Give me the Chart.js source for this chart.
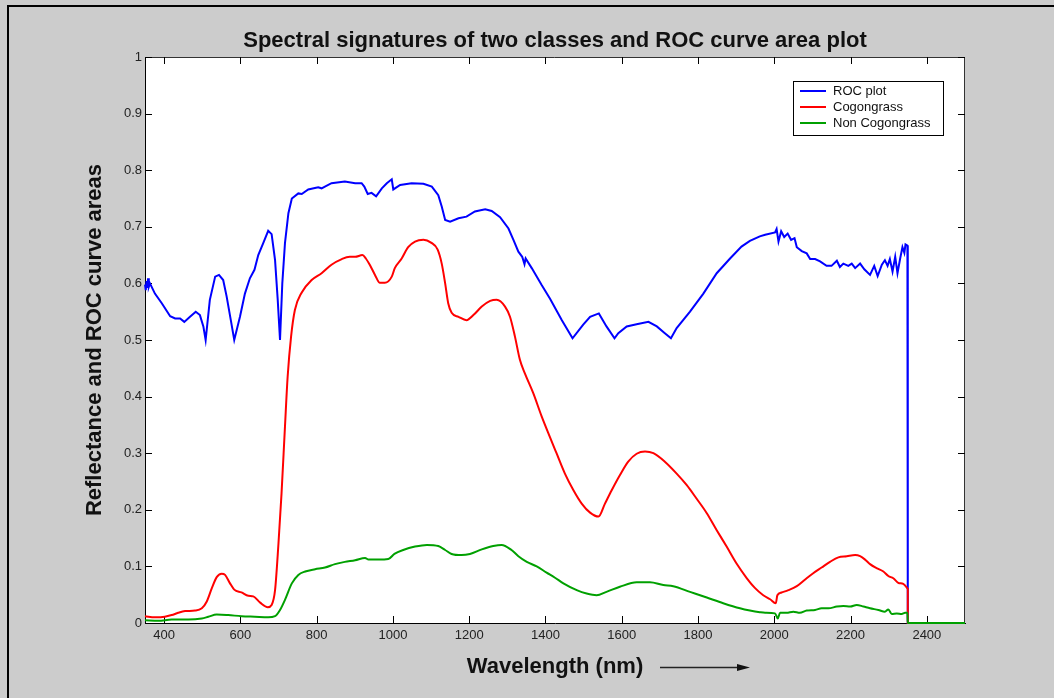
<!DOCTYPE html>
<html>
<head>
<meta charset="utf-8">
<title>Spectral signatures</title>
<script src="https://cdn.jsdelivr.net/npm/chart.js@4.4.1/dist/chart.umd.min.js"></script>
<style>
  html, body { margin: 0; padding: 0; background: #cccccc; }
  #wrap { position: relative; width: 1054px; height: 698px; overflow: hidden; }
  #border { position: absolute; left: 7px; top: 5px; width: 1100px; height: 760px; border: 2px solid #000; pointer-events: none; }
  canvas { position: absolute; left: 0; top: 0; }
</style>
</head>
<body>
<div id="wrap">
  <canvas id="myChart" width="1054" height="698"></canvas>
  <div id="border"></div>
</div>
<script>
// ROC curve area per wavelength
const rocWl = [350, 352, 354, 356, 358, 360, 363, 376, 394, 416, 429, 442, 453, 468, 483, 494, 503, 509, 520, 534,
  544, 555, 564, 575, 584, 599, 612, 625, 637, 647, 660, 673, 682, 691, 698, 704, 710, 717, 726, 735,
  752, 761, 778, 804, 813, 839, 874, 901, 918, 925, 934, 944, 956, 971, 984, 997, 1001, 1019, 1049, 1080,
  1102, 1119, 1128, 1137, 1150, 1172, 1193, 1215, 1242, 1259, 1281, 1303, 1316, 1329, 1339, 1345, 1348, 1364, 1390, 1412,
  1443, 1471, 1499, 1517, 1540, 1560, 1581, 1591, 1613, 1639, 1670, 1692, 1713, 1729, 1744, 1779, 1814, 1849, 1884, 1914,
  1936, 1962, 1976, 2002, 2006, 2011, 2018, 2026, 2035, 2044, 2053, 2059, 2072, 2085, 2094, 2107, 2120, 2137, 2150, 2164,
  2172, 2181, 2194, 2203, 2212, 2225, 2236, 2251, 2262, 2271, 2282, 2290, 2297, 2303, 2310, 2317, 2323, 2330, 2336, 2341,
  2344, 2349, 2350, 2500];
const rocValues = [0.598, 0.588, 0.604, 0.592, 0.609, 0.594, 0.600, 0.582, 0.565, 0.542, 0.538, 0.538, 0.532, 0.541, 0.550, 0.544, 0.524, 0.500, 0.571, 0.612,
  0.615, 0.606, 0.577, 0.535, 0.500, 0.541, 0.582, 0.609, 0.624, 0.650, 0.671, 0.693, 0.687, 0.641, 0.571, 0.500, 0.600, 0.671, 0.724, 0.750,
  0.759, 0.758, 0.766, 0.770, 0.768, 0.777, 0.780, 0.777, 0.777, 0.771, 0.758, 0.760, 0.754, 0.768, 0.777, 0.784, 0.766, 0.774, 0.777, 0.776,
  0.771, 0.756, 0.736, 0.712, 0.709, 0.715, 0.718, 0.727, 0.731, 0.728, 0.717, 0.697, 0.677, 0.656, 0.647, 0.634, 0.644, 0.627, 0.597, 0.573,
  0.535, 0.503, 0.527, 0.541, 0.547, 0.524, 0.503, 0.512, 0.524, 0.528, 0.532, 0.524, 0.512, 0.503, 0.521, 0.550, 0.582, 0.618, 0.644, 0.665,
  0.675, 0.683, 0.686, 0.690, 0.696, 0.674, 0.692, 0.682, 0.688, 0.677, 0.680, 0.664, 0.657, 0.653, 0.643, 0.643, 0.639, 0.631, 0.631, 0.640,
  0.629, 0.635, 0.631, 0.635, 0.627, 0.635, 0.625, 0.615, 0.631, 0.613, 0.633, 0.641, 0.631, 0.643, 0.621, 0.647, 0.618, 0.644, 0.664, 0.654,
  0.669, 0.667, 0, 0];

// mean reflectance, cogongrass
const cogWl = [350, 376, 402, 420, 437, 455, 481, 499, 512, 525, 538, 551, 560, 573, 584, 603, 621, 634, 652, 672,
  682, 691, 700, 708, 717, 724, 733, 743, 761, 787, 813, 839, 866, 887, 901, 920, 929, 940, 953, 966,
  979, 997, 1005, 1023, 1040, 1058, 1080, 1100, 1117, 1128, 1137, 1145, 1154, 1172, 1193, 1211, 1233, 1255, 1272, 1294,
  1307, 1320, 1333, 1346, 1368, 1390, 1412, 1429, 1451, 1473, 1495, 1517, 1539, 1556, 1574, 1595, 1617, 1639, 1661, 1683,
  1713, 1744, 1770, 1796, 1823, 1849, 1875, 1901, 1928, 1949, 1971, 1989, 2004, 2008, 2019, 2037, 2059, 2081, 2102, 2124,
  2146, 2168, 2190, 2212, 2225, 2238, 2251, 2268, 2286, 2299, 2312, 2325, 2338, 2347, 2350, 2350, 2500];
const cogValues = [0.012, 0.010, 0.011, 0.014, 0.018, 0.021, 0.022, 0.026, 0.038, 0.061, 0.081, 0.087, 0.085, 0.070, 0.059, 0.054, 0.048, 0.047, 0.036, 0.028,
  0.032, 0.058, 0.141, 0.229, 0.347, 0.435, 0.506, 0.553, 0.584, 0.606, 0.618, 0.633, 0.643, 0.647, 0.647, 0.650, 0.644, 0.632, 0.615, 0.601,
  0.601, 0.612, 0.627, 0.644, 0.664, 0.674, 0.677, 0.672, 0.660, 0.635, 0.600, 0.565, 0.548, 0.541, 0.535, 0.544, 0.559, 0.569, 0.571, 0.559,
  0.541, 0.506, 0.465, 0.441, 0.406, 0.365, 0.328, 0.300, 0.264, 0.235, 0.211, 0.195, 0.188, 0.211, 0.235, 0.261, 0.285, 0.299, 0.303, 0.300,
  0.285, 0.264, 0.244, 0.220, 0.194, 0.164, 0.135, 0.105, 0.079, 0.062, 0.049, 0.042, 0.035, 0.049, 0.054, 0.058, 0.065, 0.077, 0.088, 0.098,
  0.108, 0.116, 0.118, 0.120, 0.118, 0.112, 0.104, 0.097, 0.091, 0.083, 0.079, 0.071, 0.069, 0.063, 0.060, 0, 0];

// mean reflectance, other vegetation
const nonWl = [350, 385, 420, 464, 499, 516, 538, 568, 603, 638, 673, 691, 704, 717, 735, 752, 770, 796, 822, 848,
  874, 901, 927, 936, 962, 988, 1004, 1027, 1058, 1089, 1119, 1137, 1154, 1180, 1202, 1233, 1263, 1285, 1311, 1329,
  1351, 1377, 1403, 1425, 1447, 1482, 1508, 1534, 1560, 1595, 1639, 1674, 1709, 1735, 1779, 1823, 1866, 1910, 1936, 1962,
  1976, 2002, 2009, 2015, 2032, 2050, 2067, 2085, 2107, 2124, 2142, 2164, 2181, 2199, 2216, 2234, 2251, 2273, 2290, 2299,
  2308, 2321, 2334, 2343, 2349, 2350, 2500];
const nonValues = [0.005, 0.004, 0.006, 0.006, 0.008, 0.011, 0.015, 0.014, 0.012, 0.011, 0.010, 0.012, 0.023, 0.041, 0.070, 0.085, 0.091, 0.095, 0.098, 0.104,
  0.108, 0.111, 0.115, 0.112, 0.112, 0.113, 0.122, 0.129, 0.135, 0.138, 0.136, 0.129, 0.122, 0.120, 0.122, 0.130, 0.136, 0.138, 0.129, 0.118,
  0.108, 0.100, 0.089, 0.080, 0.070, 0.058, 0.052, 0.049, 0.055, 0.064, 0.072, 0.072, 0.067, 0.065, 0.055, 0.045, 0.035, 0.026, 0.022, 0.019,
  0.018, 0.017, 0.008, 0.018, 0.018, 0.020, 0.018, 0.022, 0.023, 0.026, 0.026, 0.029, 0.030, 0.029, 0.032, 0.029, 0.026, 0.023, 0.020, 0.024,
  0.016, 0.017, 0.016, 0.018, 0.018, 0, 0];

const xTicks = [400, 600, 800, 1000, 1200, 1400, 1600, 1800, 2000, 2200, 2400];
const yTicks = [0, 0.1, 0.2, 0.3, 0.4, 0.5, 0.6, 0.7, 0.8, 0.9, 1];

const FONT = '"Liberation Sans", Arial, sans-serif';
Chart.defaults.font.family = FONT;

const toPoints = (wl, vals) => wl.map((w, i) => ({ x: w, y: vals[i] }));

// matlab-like figure: white axes box, inward ticks, titles, boxed legend
const matlabFrame = {
  id: 'matlabFrame',
  beforeDraw(chart) {
    const { ctx, chartArea: a } = chart;
    ctx.save();
    ctx.fillStyle = '#ffffff';
    ctx.fillRect(a.left, a.top, a.right - a.left, a.bottom - a.top);
    ctx.restore();
  },
  beforeDatasetsDraw(chart) {
    const { ctx, chartArea: a, scales } = chart;
    const len = 7;
    ctx.save();
    ctx.strokeStyle = '#333';
    ctx.lineWidth = 1;
    ctx.beginPath();
    ctx.moveTo(a.left, a.top + 0.5);
    ctx.lineTo(a.right - 0.5, a.top + 0.5);
    ctx.lineTo(a.right - 0.5, a.bottom);
    ctx.stroke();
    ctx.strokeStyle = '#000';
    ctx.beginPath();
    xTicks.forEach(v => {
      const px = Math.round(scales.x.getPixelForValue(v)) + 0.5;
      ctx.moveTo(px, a.bottom); ctx.lineTo(px, a.bottom - len);
      ctx.moveTo(px, a.top); ctx.lineTo(px, a.top + len);
    });
    yTicks.forEach(v => {
      const py = Math.round(scales.y.getPixelForValue(v)) + 0.5;
      ctx.moveTo(a.left, py); ctx.lineTo(a.left + len, py);
      ctx.moveTo(a.right, py); ctx.lineTo(a.right - len, py);
    });
    ctx.stroke();
    ctx.restore();
  },
  afterDraw(chart) {
    const { ctx, chartArea: a } = chart;
    const cx = (a.left + a.right) / 2;
    ctx.save();
    ctx.fillStyle = '#111';
    ctx.font = 'bold 22px ' + FONT;
    ctx.textAlign = 'center';
    ctx.textBaseline = 'alphabetic';
    ctx.fillText('Spectral signatures of two classes and ROC curve area plot', cx, a.top - 10);
    ctx.fillText('Wavelength (nm)', cx, a.bottom + 50);

    // arrow after the x label
    ctx.strokeStyle = '#222';
    ctx.lineWidth = 1.5;
    ctx.beginPath();
    ctx.moveTo(cx + 105, a.bottom + 44.5);
    ctx.lineTo(cx + 185, a.bottom + 44.5);
    ctx.stroke();
    ctx.beginPath();
    ctx.moveTo(cx + 195, a.bottom + 44.5);
    ctx.lineTo(cx + 182, a.bottom + 41);
    ctx.lineTo(cx + 182, a.bottom + 48);
    ctx.closePath();
    ctx.fill();

    ctx.translate(a.left - 44, (a.top + a.bottom) / 2);
    ctx.rotate(-Math.PI / 2);
    ctx.fillText('Reflectance and ROC curve areas', 0, 0);
    ctx.restore();

    // legend box
    const lx = a.right - 172, ly = a.top + 24, lw = 150, lh = 54;
    ctx.save();
    ctx.fillStyle = '#fff';
    ctx.fillRect(lx, ly, lw, lh);
    ctx.strokeStyle = '#000';
    ctx.lineWidth = 1;
    ctx.strokeRect(lx + 0.5, ly + 0.5, lw, lh);
    ctx.font = '13px ' + FONT;
    ctx.textBaseline = 'middle';
    chart.data.datasets.forEach((ds, i) => {
      const y = ly + 10 + i * 16;
      ctx.strokeStyle = ds.borderColor;
      ctx.lineWidth = 2;
      ctx.beginPath();
      ctx.moveTo(lx + 7, y);
      ctx.lineTo(lx + 33, y);
      ctx.stroke();
      ctx.fillStyle = '#111';
      ctx.fillText(ds.label, lx + 40, y);
    });
    ctx.restore();
  }
};

const ctx = document.getElementById('myChart');

new Chart(ctx, {
  type: 'line',
  data: {
    datasets: [
      { label: 'ROC plot', data: toPoints(rocWl, rocValues), borderColor: '#0000ff', order: 3 },
      { label: 'Cogongrass', data: toPoints(cogWl, cogValues), borderColor: '#ff0000', order: 2, cubicInterpolationMode: 'monotone' },
      { label: 'Non Cogongrass', data: toPoints(nonWl, nonValues), borderColor: '#00a000', order: 1, cubicInterpolationMode: 'monotone' }
    ]
  },
  options: {
    responsive: false,
    animation: false,
    devicePixelRatio: 1,
    layout: { padding: { top: 57, right: 89, left: 0, bottom: 0 } },
    elements: {
      line: { borderWidth: 2, tension: 0, fill: false },
      point: { radius: 0, hoverRadius: 0 }
    },
    datasets: { line: { clip: 4 } },
    plugins: {
      legend: { display: false },
      title: { display: false },
      tooltip: { enabled: false }
    },
    scales: {
      x: {
        type: 'linear',
        min: 350,
        max: 2500,
        grid: { display: false, drawTicks: false },
        border: { display: true, color: '#000', width: 1 },
        afterBuildTicks: s => { s.ticks = xTicks.map(v => ({ value: v })); },
        afterFit: s => { s.height = 75; },
        ticks: { color: '#222', font: { size: 13 }, padding: 5, maxRotation: 0, callback: v => String(v) }
      },
      y: {
        min: 0,
        max: 1,
        grid: { display: false, drawTicks: false },
        border: { display: true, color: '#000', width: 1 },
        afterBuildTicks: s => { s.ticks = yTicks.map(v => ({ value: v })); },
        afterFit: s => { s.width = 145; },
        ticks: { color: '#222', font: { size: 13 }, padding: 3, callback: v => String(v) }
      }
    }
  },
  plugins: [matlabFrame]
});
</script>
</body>
</html>
